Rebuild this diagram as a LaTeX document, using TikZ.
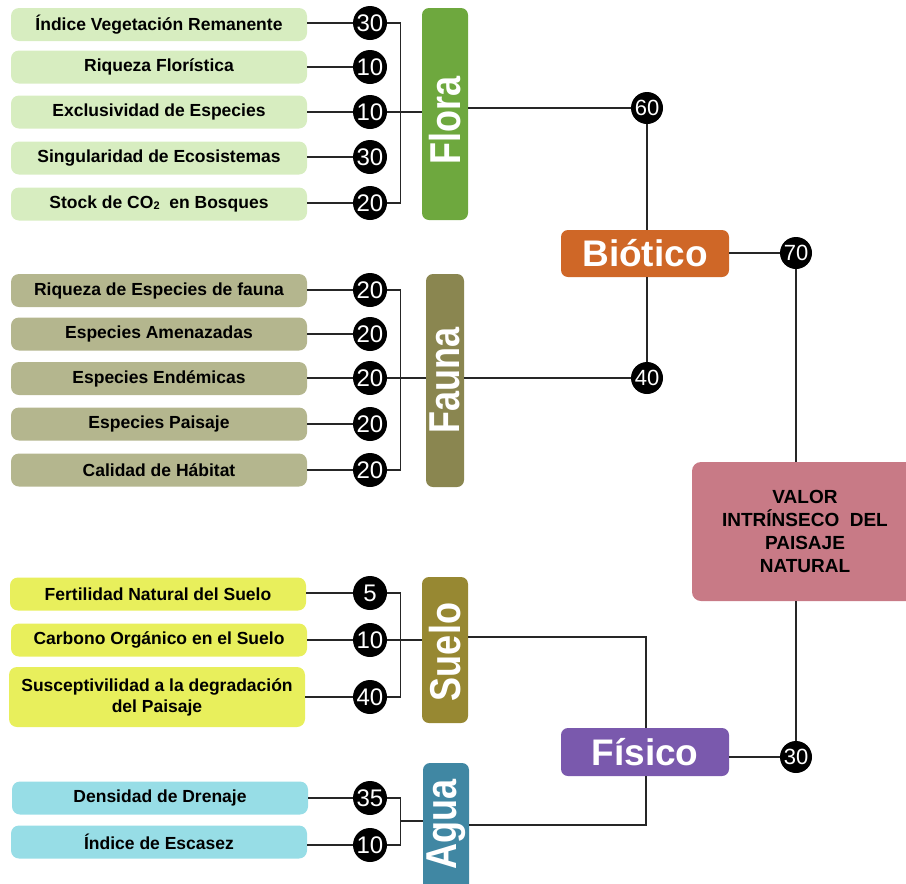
\documentclass[tikz,border=0pt]{standalone}
\usepackage{fontspec}
\setmainfont{Liberation Sans}
\definecolor{floraL}{HTML}{D7EDC0}
\definecolor{floraD}{HTML}{6EA83E}
\definecolor{faunaL}{HTML}{B4B68E}
\definecolor{faunaD}{HTML}{8A8650}
\definecolor{sueloL}{HTML}{E8EF5C}
\definecolor{sueloD}{HTML}{978832}
\definecolor{aguaL}{HTML}{97DDE6}
\definecolor{aguaD}{HTML}{4087A3}
\definecolor{bioC}{HTML}{CF6727}
\definecolor{fisC}{HTML}{7A59AD}
\definecolor{valC}{HTML}{C87A86}
\begin{document}
\begin{tikzpicture}[x=1pt,y=-1pt,
  item/.style={rounded corners=8pt, minimum width=296pt, minimum height=33pt, inner sep=0pt, align=center,
    font=\bfseries\fontsize{17.5}{21}\selectfont},
  num/.style={circle, fill=black, text=white, minimum size=34pt, inner sep=0pt,
    font=\fontsize{24}{24}\selectfont},
  numR/.style={num, minimum size=32pt, font=\fontsize{22}{22}\selectfont},
  grp/.style={rounded corners=7pt, inner sep=0pt, text=white, font=\bfseries\fontsize{36}{36}\selectfont},
  grpt/.style={inner sep=0pt, text=white, font=\bfseries\fontsize{36}{36}\selectfont},
  cat/.style={rounded corners=7pt, inner sep=0pt, text=white, minimum width=168pt, minimum height=47pt,
    font=\bfseries\fontsize{37}{37}\selectfont},
  wire/.style={line width=1.4pt, draw=black!85}
]
\useasboundingbox (0,0) rectangle (906,884);
\begin{scope}
\clip (0,0) rectangle (906,884);
% Flora items
\node[item, fill=floraL] (f1) at (159,24.5) {Índice Vegetación Remanente};
\node[item, fill=floraL] (f2) at (159,67) {Riqueza Florística};
\node[item, fill=floraL] (f3) at (159,112) {Exclusividad de Especies};
\node[item, fill=floraL] (f4) at (159,158) {Singularidad de Ecosistemas};
\node[item, fill=floraL] (f5) at (159,204) {Stock de CO\raisebox{-1pt}{\fontsize{11}{11}\selectfont 2}\ \ en Bosques};
\node[num] (nf1) at (370,23) {30};
\node[num] (nf2) at (370,67) {10};
\node[num] (nf3) at (370,112) {10};
\node[num] (nf4) at (370,157) {30};
\node[num] (nf5) at (370,203) {20};
\node[grp, fill=floraD, minimum width=46pt, minimum height=212pt] (flora) at (445,114) {};
\node[grpt] (florat) at (445,120) {\rotatebox{90}{\scalebox{1}[1.2]{Flora}}};
% Fauna items
\node[item, fill=faunaL] (a1) at (159,290.5) {Riqueza de Especies de fauna};
\node[item, fill=faunaL] (a2) at (159,334) {Especies Amenazadas};
\node[item, fill=faunaL] (a3) at (159,378.5) {Especies Endémicas};
\node[item, fill=faunaL] (a4) at (159,424) {Especies Paisaje};
\node[item, fill=faunaL] (a5) at (159,470) {Calidad de Hábitat};
\node[num] (na1) at (370,290) {20};
\node[num] (na2) at (370,334) {20};
\node[num] (na3) at (370,378) {20};
\node[num] (na4) at (370,424) {20};
\node[num] (na5) at (370,470) {20};
\node[grp, fill=faunaD, minimum width=38pt, minimum height=213pt] (fauna) at (445,380.5) {\rotatebox{90}{\scalebox{1}[1.2]{Fauna}}};
% Suelo items
\node[item, fill=sueloL] (s1) at (158,594) {Fertilidad Natural del Suelo};
\node[item, fill=sueloL] (s2) at (159,640) {Carbono Orgánico en el Suelo};
\node[item, fill=sueloL, minimum height=60pt] (s3) at (157,697) {Susceptivilidad a la degradación\\del Paisaje};
\node[num] (ns1) at (370,593) {5};
\node[num] (ns2) at (370,640) {10};
\node[num] (ns3) at (370,697) {40};
\node[grp, fill=sueloD, minimum width=46pt, minimum height=146pt] (suelo) at (445,650) {};
\node[grpt] (suelot) at (445,652) {\rotatebox{90}{\scalebox{1}[1.2]{Suelo}}};
% Agua items
\node[item, fill=aguaL] (w1) at (160,798) {Densidad de Drenaje};
\node[item, fill=aguaL] (w2) at (159,842) {Índice de Escasez};
\node[num] (nw1) at (370,798) {35};
\node[num] (nw2) at (370,845) {10};
\node[grp, fill=aguaD, minimum width=46pt, minimum height=150pt] (agua) at (446,838) {};
\node[grpt] (aguat) at (446,824) {\rotatebox{90}{\scalebox{1}[1.2]{Agua}}};
% categories
\node[cat, fill=bioC] (bio) at (645,253.5) {Biótico};
\node[cat, fill=fisC, minimum height=48pt] (fis) at (645,752) {Físico};
\node[rounded corners=9pt, fill=valC, minimum width=240pt, minimum height=139pt, inner sep=0pt] (val) at (812,531.5) {};
\node[align=center, inner sep=0pt, font=\bfseries\fontsize{19}{23}\selectfont] (valt) at (805,531) {VALOR\\INTRÍNSECO\ \ DEL\\PAISAJE\\NATURAL};
\node[numR] (n60) at (647,108) {60};
\node[numR] (n40) at (647,378) {40};
\node[numR] (n70) at (796,253) {70};
\node[numR] (n30) at (796,757) {30};
\coordinate (sj) at (646,637);
\coordinate (aj) at (646,825);
\coordinate (ajl) at (400,821);
% wires
\foreach \i in {1,...,5} {\draw[wire] (f\i.east |- nf\i) -- (nf\i.west);}
\foreach \i in {1,...,5} {\draw[wire] (a\i.east |- na\i) -- (na\i.west);}
\foreach \i in {1,2,3} {\draw[wire] (s\i.east |- ns\i) -- (ns\i.west);}
\foreach \i in {1,2} {\draw[wire] (w\i.east |- nw\i) -- (nw\i.west);}
\draw[wire] (nf1.east) -- ++(13,0) |- (nf5.east);
\draw[wire] (nf3.east) -- (flora.west |- nf3);
\draw[wire] (na1.east) -- ++(13,0) |- (na5.east);
\draw[wire] (na3.east) -- (fauna.west |- na3);
\draw[wire] (ns1.east) -- ++(13,0) |- (ns3.east);
\draw[wire] (ns2.east) -- (suelo.west |- ns2);
\draw[wire] (nw1.east) -- ++(13,0) |- (nw2.east);
\draw[wire] (ajl) -- (agua.west |- ajl);
\draw[wire] (flora.east |- n60) -- (n60.west);
\draw[wire] (n60.south) -- (n60.south |- bio.north);
\draw[wire] (fauna.east |- n40) -- (n40.west);
\draw[wire] (n40.north) -- (n40.north |- bio.south);
\draw[wire] (bio.east |- n70) -- (n70.west);
\draw[wire] (n70.south) -- (n70.south |- val.north);
\draw[wire] (n30.north |- val.south) -- (n30.north);
\draw[wire] (fis.east |- n30) -- (n30.west);
\draw[wire] (suelo.east |- sj) -- (sj) -- (sj |- fis.north);
\draw[wire] (agua.east |- aj) -- (aj) -- (aj |- fis.south);
\end{scope}
\end{tikzpicture}
\end{document}
